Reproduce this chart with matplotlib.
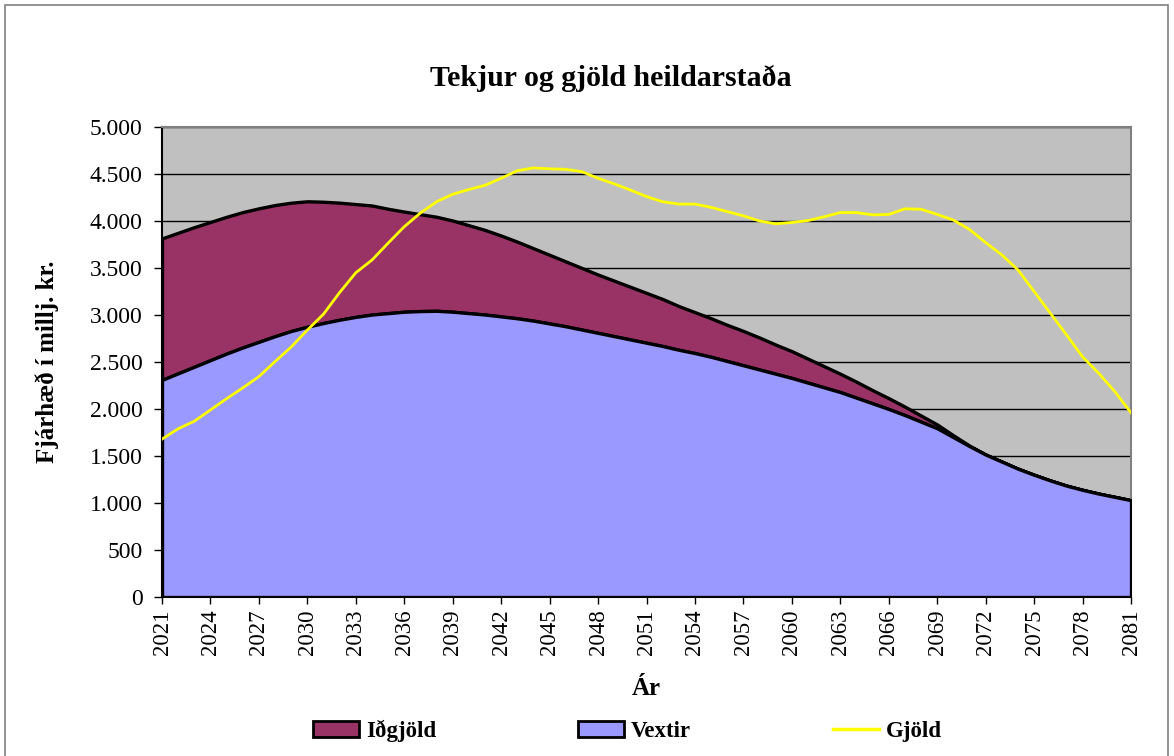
#Tekjur og gjöld heildarstaða

#Importing Libarary
import numpy as np
import matplotlib.pyplot as plt
from matplotlib.patches import Patch, Rectangle
from matplotlib.lines import Line2D
from matplotlib.ticker import FuncFormatter

plt.rcParams['font.family'] = ['Liberation Serif', 'DejaVu Serif']

#Data
years = list(range(2021, 2082))

vextir = [2310, 2380, 2450, 2520, 2590, 2655, 2715, 2775, 2830, 2875,
          2915, 2950, 2980, 3005, 3020, 3035, 3042, 3045, 3035, 3020,
          3005, 2985, 2965, 2940, 2910, 2880, 2845, 2810, 2775, 2740,
          2705, 2670, 2630, 2595, 2555, 2510, 2465, 2420, 2375, 2330,
          2280, 2230, 2180, 2120, 2060, 2000, 1935, 1865, 1795, 1700,
          1605, 1515, 1440, 1365, 1300, 1240, 1185, 1140, 1100, 1065, 1030]

idgjold = [1505, 1495, 1485, 1470, 1455, 1440, 1420, 1395, 1365, 1335,
           1290, 1245, 1200, 1160, 1110, 1065, 1030, 1000, 970, 935,
           900, 860, 815, 770, 730, 690, 655, 620, 590, 560,
           530, 500, 465, 435, 410, 385, 365, 340, 310, 285,
           255, 225, 195, 170, 140, 115, 90, 65, 40, 20,
           5, 0, 0, 0, 0, 0, 0, 0, 0, 0, 0]

gjold = [1680, 1790, 1870, 1990, 2110, 2225, 2345, 2505, 2660, 2840,
         3010, 3240, 3450, 3585, 3765, 3940, 4085, 4205, 4285, 4335,
         4380, 4455, 4535, 4565, 4555, 4550, 4525, 4455, 4395, 4330,
         4260, 4205, 4180, 4180, 4145, 4100, 4055, 4000, 3970, 3985,
         4005, 4045, 4090, 4090, 4065, 4070, 4130, 4125, 4070, 4010,
         3910, 3770, 3640, 3480, 3250, 3020, 2790, 2555, 2380, 2185, 1960]

yticks = np.arange(0, 5001, 500)
xticks = years[::3]

x = np.array(years)
v = np.array(vextir)
top = v + np.array(idgjold)

fig = plt.figure(figsize=(11.74, 7.56), dpi=100)
ax = fig.add_axes([0.138, 0.2103, 0.8254, 0.6217])
ax.set_facecolor('#C0C0C0')

#grid
for t in yticks[1:]:
    ax.axhline(t, color='black', lw=1, zorder=1)

ax.fill_between(x, v, top, facecolor='#993366', edgecolor='black', lw=2.4, zorder=2)
ax.fill_between(x, 0, v, facecolor='#9999FF', edgecolor='black', lw=2.4, zorder=3)
ax.plot(x, gjold, color='#FFFF00', lw=2, zorder=4)

ax.set_xlim(years[0], years[-1])
ax.set_ylim(0, 5000)
ax.set_xticks(xticks)
ax.set_xticklabels([str(y) for y in xticks], rotation=90, fontsize=16.5)
ax.set_yticks(yticks)
ax.yaxis.set_major_formatter(FuncFormatter(lambda val, pos: f"{val:,.0f}".replace(',', '.')))
ax.tick_params(axis='y', labelsize=17, length=6, width=1, direction='out', pad=8)
ax.tick_params(axis='x', length=5, width=1, direction='out', pad=4)

for s in ['top', 'right']:
    ax.spines[s].set_color('#808080')
    ax.spines[s].set_linewidth(1.5)
for s in ['left', 'bottom']:
    ax.spines[s].set_color('black')
    ax.spines[s].set_linewidth(1.5)

fig.text(611 / 1174, 1 - 78 / 756, 'Tekjur og gjöld heildarstaða', ha='center', va='center',
         fontsize=21.5, fontweight='bold')
ax.set_ylabel('Fjárhæð í millj. kr.', fontsize=18, fontweight='bold', labelpad=22)
ax.set_xlabel('Ár', fontsize=18, fontweight='bold', labelpad=16)

handles = [Patch(facecolor='#993366', edgecolor='black', lw=2),
           Patch(facecolor='#9999FF', edgecolor='black', lw=2),
           Line2D([0], [0], color='#FFFF00', lw=2.5)]
fig.legend(handles, ['Iðgjöld', 'Vextir', 'Gjöld'], loc='center', bbox_to_anchor=(0.5345, 1 - 731 / 756),
           ncol=3, frameon=False, prop={'weight': 'bold', 'size': 16.5}, columnspacing=6.2,
           handlelength=2.0, handletextpad=0.3)

#outer frame
fig.patches.append(Rectangle((5 / 1174, -0.01), 1163 / 1174, 1.0 - 5 / 756 + 0.01,
                             transform=fig.transFigure, fill=False, edgecolor='#808080', lw=1.2))

plt.savefig('out.png', dpi=100)
